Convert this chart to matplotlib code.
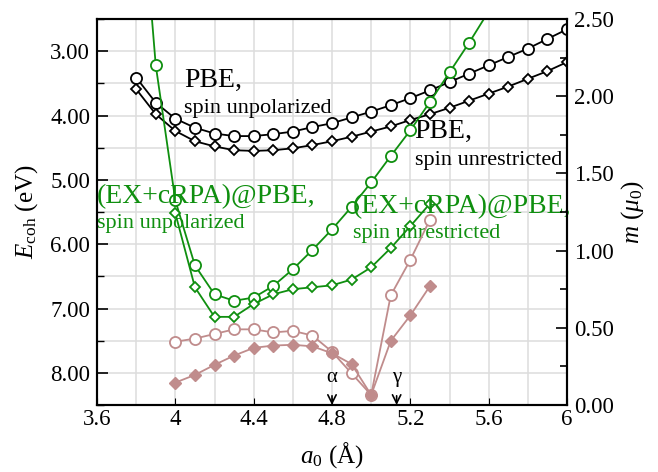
import numpy as np
import matplotlib
matplotlib.use("Agg")
import matplotlib.pyplot as plt
from matplotlib.ticker import MultipleLocator, FormatStrFormatter, FixedLocator, FixedFormatter

plt.rcParams['font.family'] = ['Liberation Serif', 'DejaVu Serif']
plt.rcParams['mathtext.fontset'] = 'custom'
plt.rcParams['mathtext.rm'] = 'Liberation Serif'
plt.rcParams['mathtext.it'] = 'Liberation Serif:italic'

# lattice constants (Angstrom)
a_pbe = [3.8, 3.9, 4.0, 4.1, 4.2, 4.3, 4.4, 4.5, 4.6, 4.7, 4.8, 4.9,
         5.0, 5.1, 5.2, 5.3, 5.4, 5.5, 5.6, 5.7, 5.8, 5.9, 6.0]
a_rpa_unpol = [3.8, 3.9, 4.0, 4.1, 4.2, 4.3, 4.4, 4.5, 4.6, 4.7, 4.8,
               4.9, 5.0, 5.1, 5.2, 5.3, 5.4, 5.5, 5.6]
a_mag = [4.0, 4.1, 4.2, 4.3, 4.4, 4.5, 4.6, 4.7, 4.8, 4.9, 5.0, 5.1, 5.2, 5.3]

# cohesive energies (eV)
E_pbe_unpol = [3.41, 3.80, 4.05, 4.19, 4.28, 4.32, 4.32, 4.29, 4.25, 4.18, 4.12, 4.03,
               3.94, 3.84, 3.73, 3.61, 3.48, 3.35, 3.22, 3.09, 2.96, 2.81, 2.66]
E_pbe_unres = [3.59, 3.98, 4.24, 4.40, 4.48, 4.54, 4.55, 4.54, 4.51, 4.46, 4.40, 4.33,
               4.25, 4.17, 4.07, 3.98, 3.88, 3.77, 3.66, 3.55, 3.43, 3.31, 3.17]
E_rpa_unpol = [-0.5, 3.22, 5.32, 6.33, 6.78, 6.88, 6.83, 6.65, 6.39, 6.09, 5.77,
               5.42, 5.04, 4.63, 4.23, 3.79, 3.33, 2.87, 2.38]
E_rpa_unres = [5.52, 6.67, 7.13, 7.13, 6.93, 6.78, 6.70, 6.67, 6.64, 6.55, 6.36,
               6.06, 5.72, 5.37]

# magnetic moments (mu_0)
m_open = [0.41, 0.43, 0.46, 0.49, 0.49, 0.47, 0.48, 0.45, 0.345, 0.205, 0.065, 0.71, 0.94, 1.20]
m_fill = [0.145, 0.195, 0.26, 0.32, 0.37, 0.385, 0.39, 0.38, 0.335, 0.265, 0.065, 0.415, 0.58, 0.77]

green = '#0f8f0f'
brown = '#c08c8c'

fig = plt.figure(figsize=(6.58, 4.72), dpi=100)
ax = fig.add_axes([97/658, 1-405/472, 470/658, 386/472])
ax2 = ax.twinx()

ax.plot(a_pbe, E_pbe_unpol, '-o', color='black', mfc='white', ms=8, mew=1.3, lw=1.3, zorder=3)
ax.plot(a_pbe, E_pbe_unres, '-D', color='black', mfc='white', ms=5.5, mew=1.3, lw=1.3, zorder=3)
ax.plot(a_rpa_unpol, E_rpa_unpol, '-o', color=green, mfc='white', ms=8, mew=1.3, lw=1.3, zorder=4)
ax.plot(a_mag, E_rpa_unres, '-D', color=green, mfc='white', ms=5.5, mew=1.3, lw=1.3, zorder=4)

ax2.plot(a_mag, m_open, '-o', color=brown, mfc='white', ms=8, mew=1.3, lw=1.3)
ax2.plot(a_mag, m_fill, '-D', color=brown, mfc=brown, ms=6.5, mew=1.0, lw=1.3)

ax.set_xlim(3.6, 6.0)
ax.set_ylim(8.5, 2.5)
ax2.set_ylim(0, 2.5)

xt = [3.6, 4.0, 4.4, 4.8, 5.2, 5.6, 6.0]
ax.xaxis.set_major_locator(FixedLocator(xt))
ax.xaxis.set_major_formatter(FixedFormatter(['3.6', '4', '4.4', '4.8', '5.2', '5.6', '6']))
ax.xaxis.set_minor_locator(MultipleLocator(0.2))
ax.yaxis.set_major_locator(MultipleLocator(1.0))
ax.yaxis.set_minor_locator(MultipleLocator(0.5))
ax.yaxis.set_major_formatter(FormatStrFormatter('%.2f'))
ax2.yaxis.set_major_locator(MultipleLocator(0.5))
ax2.yaxis.set_minor_locator(MultipleLocator(0.25))
ax2.yaxis.set_major_formatter(FormatStrFormatter('%.2f'))

ax.grid(True, which='both', color='#dddddd', lw=1.1)
ax.set_axisbelow(True)

ax.tick_params(axis='both', which='both', direction='in', labelsize=16.5)
ax.tick_params(axis='y', which='major', length=8, width=1.2, pad=5)
ax.tick_params(axis='y', which='minor', length=5, width=1.0)
ax.tick_params(axis='x', which='major', length=5, pad=3)
ax.tick_params(axis='x', which='minor', length=0)
ax2.tick_params(axis='y', which='both', direction='in', labelsize=16.5, pad=5, width=1.2)
ax2.tick_params(axis='y', which='major', length=8)
ax2.tick_params(axis='y', which='minor', length=5)

for sp in list(ax.spines.values()) + list(ax2.spines.values()):
    sp.set_linewidth(1.5)

ax.set_xlabel(r'$a_0$ (Å)', fontsize=18, labelpad=7)
ax.set_ylabel(r'$E_{\rm coh}$ (eV)', fontsize=18, labelpad=7)
ax2.set_ylabel(r'$m$ ($\mu_0$)', fontsize=18, labelpad=4)

ax.text(4.044, 3.557, 'PBE,', fontsize=20, va='baseline')
ax.text(4.044, 3.96, 'spin unpolarized', fontsize=16, va='baseline')
ax.text(5.222, 4.35, 'PBE,', fontsize=20, va='baseline')
ax.text(5.222, 4.77, 'spin unrestricted', fontsize=16, va='baseline')
ax.text(3.6, 5.36, '(EX+cRPA)@PBE,', fontsize=20, va='baseline', color=green, zorder=6)
ax.text(3.6, 5.75, 'spin unpolarized', fontsize=16, va='baseline', color=green, zorder=6)
ax.text(4.906, 5.52, '(EX+cRPA)@PBE,', fontsize=20, va='baseline', color=green, zorder=6)
ax.text(4.906, 5.90, 'spin unrestricted', fontsize=16, va='baseline', color=green, zorder=6)

for lab, xa in [('α', 4.8), ('γ', 5.13)]:
    ax.annotate(lab, xy=(xa, 8.5), xytext=(xa, 8.08), ha='center', va='center', fontsize=15,
                arrowprops=dict(arrowstyle='->', color='black', lw=1.2, shrinkA=4, shrinkB=0))

fig.savefig('out.png', dpi=100)
